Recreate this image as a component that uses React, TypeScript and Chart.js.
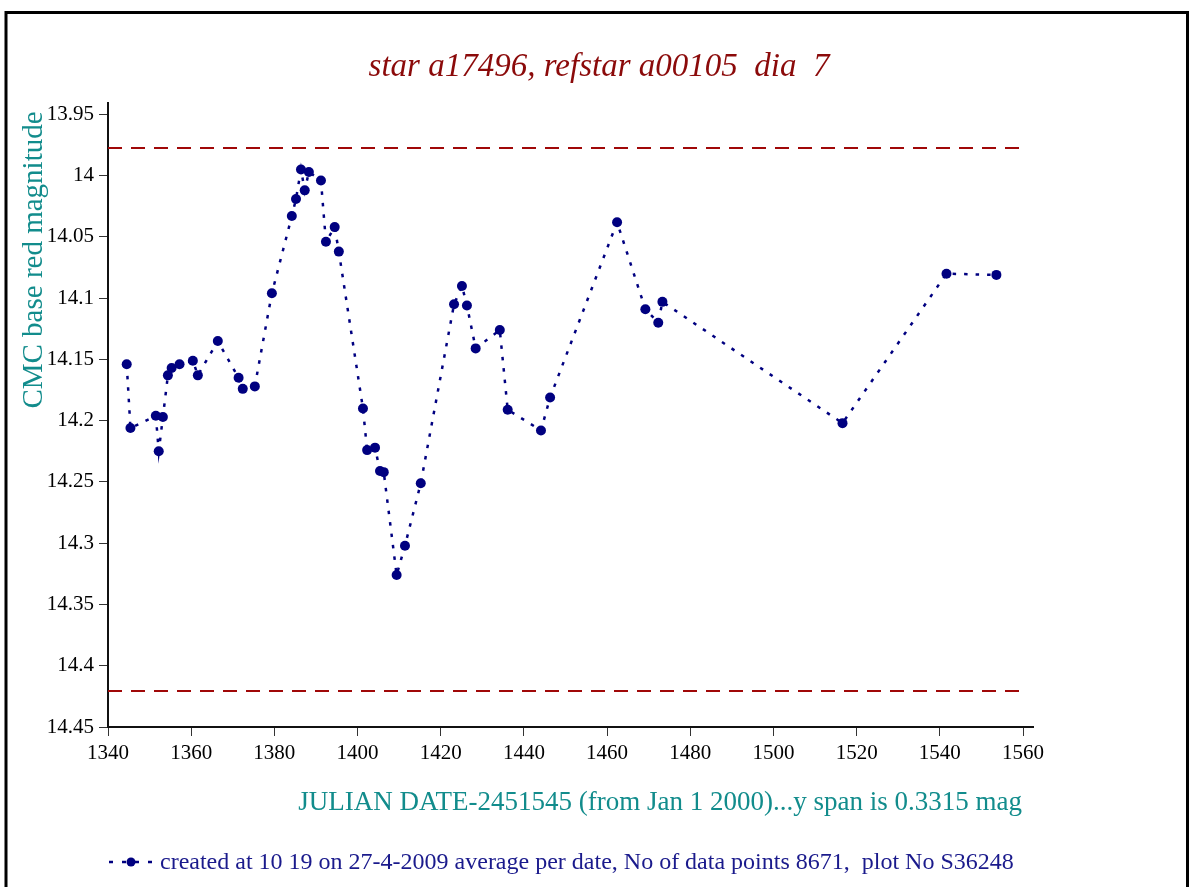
import React, { useEffect, useRef } from "react";
import { Chart, registerables } from "chart.js";

Chart.register(...registerables);

const julianDays = [
  1344.5, 1345.4, 1351.5, 1352.2, 1353.2, 1354.4, 1355.3, 1357.2, 1360.4, 1361.6,
  1366.4, 1371.4, 1372.4, 1375.3, 1379.4, 1384.2, 1385.2, 1386.4, 1387.3, 1388.3,
  1391.2, 1392.4, 1394.5, 1395.5, 1401.3, 1402.3, 1404.2, 1405.4, 1406.3, 1409.4,
  1411.4, 1415.2, 1423.2, 1425.1, 1426.3, 1428.4, 1434.2, 1436.1, 1444.1, 1446.3,
  1462.4, 1469.2, 1472.3, 1473.3, 1516.6, 1541.6, 1553.6,
];
const magnitudes = [
  14.154, 14.206, 14.196, 14.225, 14.197, 14.163, 14.157, 14.154, 14.151, 14.163,
  14.135, 14.165, 14.174, 14.172, 14.096, 14.033, 14.019, 13.995, 14.012, 13.997,
  14.004, 14.054, 14.042, 14.062, 14.19, 14.224, 14.222, 14.241, 14.242, 14.326,
  14.302, 14.251, 14.105, 14.09, 14.106, 14.141, 14.126, 14.191, 14.208, 14.181,
  14.038, 14.109, 14.12, 14.103, 14.202, 14.08, 14.081,
];
const upperLimit = 13.9775;
const lowerLimit = 14.4206;
const limitRange = [1340, 1560];

const xTickValues = [1340, 1360, 1380, 1400, 1420, 1440, 1460, 1480, 1500, 1520, 1540, 1560];
const yTickValues = [13.95, 14, 14.05, 14.1, 14.15, 14.2, 14.25, 14.3, 14.35, 14.4, 14.45];
const yTickLabels = ["13.95", "14", "14.05", "14.1", "14.15", "14.2", "14.25", "14.3", "14.35", "14.4", "14.45"];

const titleText = "star a17496, refstar a00105  dia  7";
const yTitleText = "CMC base red magnitude";
const xTitleText = "JULIAN DATE-2451545 (from Jan 1 2000)...y span is 0.3315 mag";
const legendText = "created at 10 19 on 27-4-2009 average per date, No of data points 8671,  plot No S36248";

const SERIF = '"Liberation Serif", "Times New Roman", serif';

const decorPlugin = {
  id: "decor",
  afterDraw(chart: any) {
    const ctx = chart.ctx as CanvasRenderingContext2D;
    ctx.save();
    // frame
    ctx.strokeStyle = "#000";
    ctx.lineWidth = 3;
    ctx.strokeRect(6, 12.5, 1181.5, 900);

    // title
    ctx.fillStyle = "#8B0A0A";
    ctx.font = `italic 33px ${SERIF}`;
    ctx.textAlign = "center";
    ctx.textBaseline = "alphabetic";
    ctx.fillText(titleText, 599, 76);

    // y title
    ctx.save();
    ctx.translate(42, 260);
    ctx.rotate(-Math.PI / 2);
    ctx.fillStyle = "#128C8C";
    ctx.font = `29px ${SERIF}`;
    ctx.textAlign = "center";
    ctx.fillText(yTitleText, 0, 0);
    ctx.restore();

    // x title
    ctx.fillStyle = "#128C8C";
    ctx.font = `27px ${SERIF}`;
    ctx.textAlign = "right";
    ctx.fillText(xTitleText, 1022, 810);

    // legend symbol
    ctx.strokeStyle = "#000080";
    ctx.lineWidth = 2.5;
    ctx.setLineDash([4, 9]);
    ctx.beginPath();
    ctx.moveTo(109, 862);
    ctx.lineTo(155, 862);
    ctx.stroke();
    ctx.setLineDash([]);
    ctx.fillStyle = "#000080";
    ctx.beginPath();
    ctx.arc(131, 862, 4.5, 0, Math.PI * 2);
    ctx.fill();

    // legend text
    ctx.fillStyle = "#1a1a8c";
    ctx.font = `24px ${SERIF}`;
    ctx.textAlign = "left";
    ctx.fillText(legendText, 160, 869);
    ctx.restore();
  },
};

export default function App() {
  const canvasRef = useRef<HTMLCanvasElement | null>(null);

  useEffect(() => {
    if (!canvasRef.current) return;
    const points = julianDays.map((x, i) => ({ x, y: magnitudes[i] }));
    const chart = new Chart(canvasRef.current, {
      type: "scatter",
      data: {
        datasets: [
          {
            data: limitRange.map((x) => ({ x, y: upperLimit })),
            showLine: true,
            borderColor: "#A00808",
            borderWidth: 2,
            borderDash: [14, 9],
            pointRadius: 0,
          },
          {
            data: limitRange.map((x) => ({ x, y: lowerLimit })),
            showLine: true,
            borderColor: "#A00808",
            borderWidth: 2,
            borderDash: [14, 9],
            pointRadius: 0,
          },
          {
            data: points,
            showLine: true,
            borderColor: "#000080",
            borderWidth: 2.5,
            borderDash: [3.5, 8],
            pointRadius: 5,
            pointBackgroundColor: "#000080",
            pointBorderColor: "#000080",
            pointBorderWidth: 0,
            tension: 0,
          },
        ],
      },
      options: {
        responsive: false,
        animation: false,
        devicePixelRatio: 1,
        layout: { padding: { top: 103, right: 156, left: 0, bottom: 0 } },
        plugins: {
          legend: { display: false },
          title: { display: false },
          tooltip: { enabled: false },
        },
        scales: {
          x: {
            type: "linear",
            position: "bottom",
            min: 1340,
            max: 1562.4,
            afterFit: (s: any) => {
              s.height = 160;
            },
            afterBuildTicks: (s: any) => {
              s.ticks = xTickValues.map((v) => ({ value: v }));
            },
            grid: {
              display: true,
              drawOnChartArea: false,
              drawTicks: true,
              tickLength: 9,
              color: "#333",
              lineWidth: 1,
            },
            border: { display: true, color: "#111", width: 2 },
            ticks: {
              autoSkip: false,
              maxRotation: 0,
              padding: 5,
              color: "#000",
              font: { family: SERIF, size: 21 },
              callback: (v: any) => String(v),
            },
          },
          y: {
            type: "linear",
            position: "left",
            reverse: true,
            min: 13.9407,
            max: 14.45,
            afterFit: (s: any) => {
              s.width = 108;
            },
            afterBuildTicks: (s: any) => {
              s.ticks = yTickValues.map((v) => ({ value: v }));
            },
            grid: {
              display: true,
              drawOnChartArea: false,
              drawTicks: true,
              tickLength: 9,
              color: "#333",
              lineWidth: 1,
            },
            border: { display: true, color: "#111", width: 2 },
            ticks: {
              autoSkip: false,
              padding: 5,
              color: "#000",
              font: { family: SERIF, size: 21 },
              callback: (v: any) => {
                const idx = yTickValues.findIndex((t) => Math.abs(t - v) < 1e-6);
                return idx >= 0 ? yTickLabels[idx] : "";
              },
            },
          },
        },
      },
      plugins: [decorPlugin],
    });
    return () => chart.destroy();
  }, []);

  return (
    <div style={{ position: "absolute", left: 0, top: 0, width: 1189, height: 887, background: "#fff" }}>
      <canvas ref={canvasRef} width={1189} height={887} style={{ display: "block" }} />
    </div>
  );
}
